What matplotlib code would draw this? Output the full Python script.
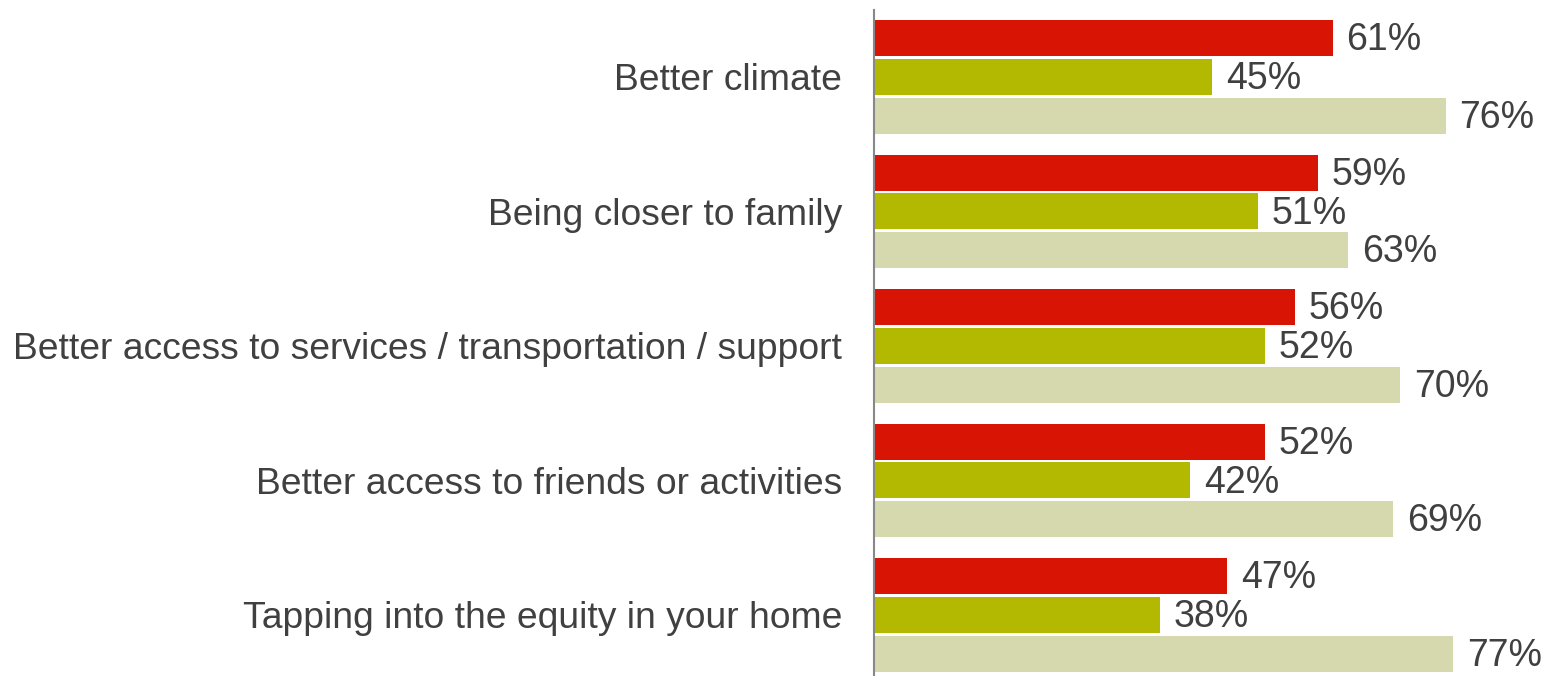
import matplotlib.pyplot as plt
import numpy as np

# data
categories = ["Better climate",
              "Being closer to family",
              "Better access to services / transportation / support",
              "Better access to friends or activities",
              "Tapping into the equity in your home"]
series_a = [61, 59, 56, 52, 47]
series_b = [45, 51, 52, 42, 38]
series_c = [76, 63, 70, 69, 77]

colors = ["#D81405", "#B3B800", "#D6D9AE"]
text_color = "#404040"

plt.rcParams["font.family"] = ["Liberation Sans", "DejaVu Sans"]

fig = plt.figure(figsize=(15.44, 6.76), dpi=100)
ax = fig.add_axes([874 / 1544, 0, 670 / 1544, 666 / 676])

y = np.arange(len(categories))
pitch = 0.288
h = 0.268

for i, vals in enumerate([series_a, series_b, series_c]):
    pos = y + (i - 1) * pitch
    ax.barh(pos, vals, height=h, color=colors[i])
    for yy, v in zip(pos, vals):
        ax.annotate(f"{v}%", xy=(v, yy), xytext=(10, -1.5), textcoords="offset points",
                    va="center", ha="left", fontsize=27, color=text_color)

ax.set_xlim(0, 670 / 7.52)
ax.set_ylim(4.454, -0.498)

ax.set_yticks(y)
ax.set_yticklabels(categories, fontsize=26.8, color=text_color)
ax.tick_params(axis="y", length=0, pad=23)
ax.set_xticks([])

for s in ["top", "right", "bottom"]:
    ax.spines[s].set_visible(False)
ax.spines["left"].set_color("#888888")
ax.spines["left"].set_linewidth(1.5)

fig.savefig("out.png", dpi=100)
plt.close()
